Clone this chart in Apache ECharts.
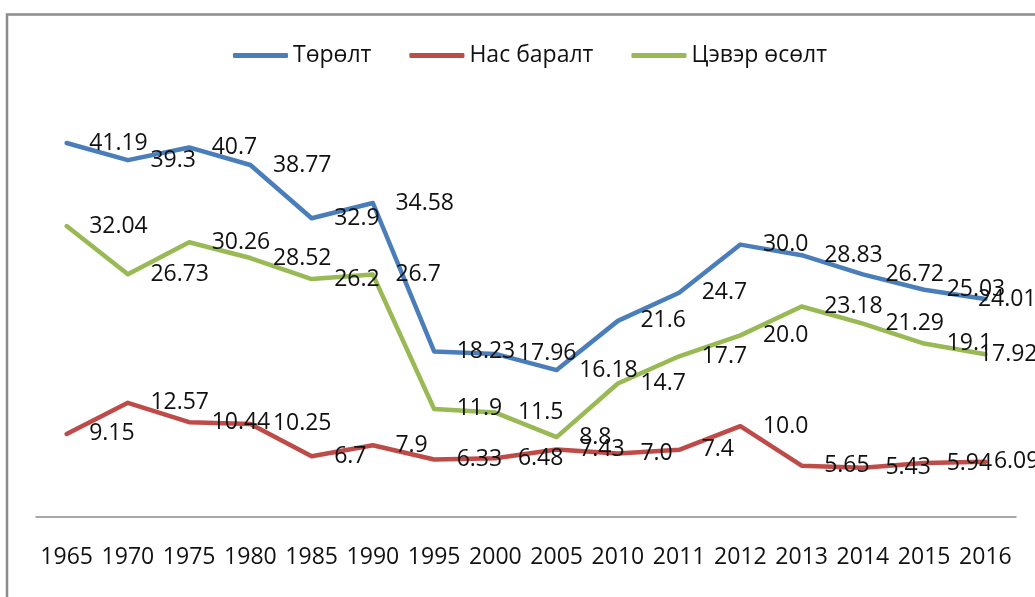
<!DOCTYPE html>
<html>
<head>
<meta charset="utf-8">
<script src="https://cdn.jsdelivr.net/npm/echarts@6/dist/echarts.min.js"></script>
<style>
  html, body { margin: 0; padding: 0; background: #fff; }
  #chart { width: 1035px; height: 597px; }
</style>
</head>
<body>
<div id="chart"></div>
<script>
// ── Data ─────────────────────────────────────────────────────────────────────
const years = ['1965', '1970', '1975', '1980', '1985', '1990', '1995', '2000',
  '2005', '2010', '2011', '2012', '2013', '2014', '2015', '2016'];

const births = [41.19, 39.3, 40.7, 38.77, 32.9, 34.58, 18.23, 17.96,
  16.18, 21.6, 24.7, 30.0, 28.83, 26.72, 25.03, 24.01];

const deaths = [9.15, 12.57, 10.44, 10.25, 6.7, 7.9, 6.33, 6.48,
  7.43, 7.0, 7.4, 10.0, 5.65, 5.43, 5.94, 6.09];

const growth = [32.04, 26.73, 30.26, 28.52, 26.2, 26.7, 11.9, 11.5,
  8.8, 14.7, 17.7, 20.0, 23.18, 21.29, 19.1, 17.92];

const names = ['Төрөлт', 'Нас баралт', 'Цэвэр өсөлт'];
const colors = ['#4a7ebb', '#be4b48', '#98b954'];

// ── Helpers ──────────────────────────────────────────────────────────────────
const FONT = '"Open Sans", "Liberation Sans", sans-serif';

const fmtVal = v => Number.isInteger(v) ? v.toFixed(1) : String(v);

// keep the last label inside the frame, as the original does
function withLabels(values, lastDist) {
  return values.map((v, i) => i === values.length - 1
    ? { value: v, label: { distance: lastDist } }
    : v);
}

function lineSeries(name, values, color, lastDist) {
  return {
    name, type: 'line',
    data: withLabels(values, lastDist),
    color,
    symbol: 'circle', symbolSize: 1,
    lineStyle: { width: 4.5, color, cap: 'round', join: 'round' },
    itemStyle: { color },
    label: {
      show: true, position: 'right', distance: 22,
      color: '#111', fontFamily: FONT, fontSize: 23,
      formatter: p => fmtVal(values[p.dataIndex]),
    },
    emphasis: { disabled: true },
  };
}

// ── Chart ────────────────────────────────────────────────────────────────────
const chart = echarts.init(document.getElementById('chart'));
chart.setOption({
  backgroundColor: '#fff',
  animation: false,
  graphic: [{
    type: 'rect', silent: true,
    shape: { x: 7, y: 14.5, width: 1100, height: 700 },
    style: { fill: 'none', stroke: '#8c8c8c', lineWidth: 2.5 },
  }],
  legend: {
    left: 228, top: 39,
    icon: 'roundRect', itemWidth: 55, itemHeight: 5, itemGap: 38,
    textStyle: { fontFamily: FONT, fontSize: 23, color: '#111' },
    data: names,
  },
  grid: { left: 36, right: 19, top: 63, bottom: 80 },
  xAxis: {
    type: 'category', data: years, boundaryGap: true,
    axisLine: { lineStyle: { color: '#8c8c8c', width: 1.5 } },
    axisTick: { show: false },
    axisLabel: { margin: 29, interval: 0, fontFamily: FONT, fontSize: 23, color: '#111' },
  },
  yAxis: {
    type: 'value', min: 0, max: 50, show: false,
    splitLine: { show: false },
  },
  series: [
    lineSeries(names[0], births, colors[0], -8),
    lineSeries(names[1], deaths, colors[1], 8),
    lineSeries(names[2], growth, colors[2], -7),
  ],
});
</script>
</body>
</html>
